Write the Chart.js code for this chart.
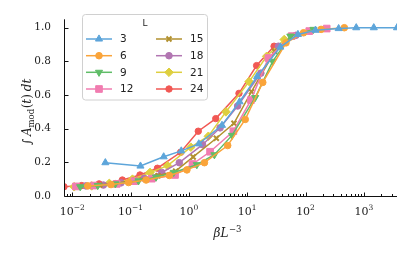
<!DOCTYPE html>
<html>
<head>
<meta charset="utf-8">
<script src="https://cdn.jsdelivr.net/npm/chart.js@4.4.0/dist/chart.umd.min.js"></script>
<style>
  html, body { margin: 0; padding: 0; background: #fff; }
  #wrap { width: 411px; height: 254px; }
</style>
</head>
<body>
<div id="wrap"><canvas id="chart" width="411" height="254"></canvas></div>
<script>
// series names (system size L)
const sizesL = [3, 6, 9, 12, 15, 18, 21, 24];

// x = beta * L^-3, y = integral of A_mod(t) dt
const x_L3 = [0.037, 0.148, 0.37, 0.741, 1.48, 3.7, 7.41, 14.8, 37, 74.1, 148, 370, 741, 1481, 3704];
const y_L3 = [0.198, 0.178, 0.233, 0.268, 0.31, 0.42, 0.56, 0.71, 0.885, 0.96, 0.985, 0.995, 1.0, 1.0, 1.0];

const x_L6 = [0.0185, 0.0463, 0.0926, 0.185, 0.463, 0.926, 1.85, 4.63, 9.26, 18.5, 46.3, 92.6, 185, 463];
const y_L6 = [0.06, 0.068, 0.08, 0.095, 0.122, 0.155, 0.198, 0.30, 0.455, 0.675, 0.91, 0.97, 0.99, 1.0];

const x_L9 = [0.0137, 0.0274, 0.0549, 0.137, 0.274, 0.549, 1.37, 2.74, 5.49, 13.7, 27.4, 54.9, 137];
const y_L9 = [0.055, 0.062, 0.072, 0.09, 0.112, 0.14, 0.186, 0.245, 0.36, 0.585, 0.80, 0.95, 0.99];

const x_L12 = [0.0116, 0.0231, 0.0579, 0.116, 0.231, 0.579, 1.157, 2.31, 5.79, 11.6, 23.1, 57.9, 116, 231];
const y_L12 = [0.057, 0.062, 0.072, 0.088, 0.103, 0.125, 0.19, 0.263, 0.385, 0.57, 0.82, 0.95, 0.98, 0.995];

const x_L15 = [0.01185, 0.0296, 0.0593, 0.1185, 0.296, 0.593, 1.185, 2.96, 5.93, 11.85, 29.6, 59.3, 118.5];
const y_L15 = [0.057, 0.065, 0.078, 0.095, 0.12, 0.148, 0.232, 0.343, 0.432, 0.62, 0.86, 0.95, 0.98];

const x_L18 = [0.01715, 0.0343, 0.0686, 0.1715, 0.343, 0.686, 1.715, 3.43, 6.86, 17.15, 34.3, 68.6];
const y_L18 = [0.06, 0.065, 0.078, 0.105, 0.14, 0.198, 0.305, 0.405, 0.535, 0.73, 0.89, 0.955];

const x_L21 = [0.0108, 0.0216, 0.0432, 0.108, 0.216, 0.432, 1.08, 2.16, 4.32, 10.8, 21.6, 43.2];
const y_L21 = [0.055, 0.06, 0.075, 0.10, 0.14, 0.18, 0.29, 0.355, 0.50, 0.68, 0.83, 0.93];

const x_L24 = [0.00723, 0.0145, 0.0289, 0.0723, 0.145, 0.289, 0.723, 1.45, 2.89, 7.23, 14.5, 28.9];
const y_L24 = [0.055, 0.062, 0.072, 0.095, 0.125, 0.165, 0.26, 0.385, 0.46, 0.61, 0.775, 0.89];

// tick labels
const xTickValues = [1e-2, 1e-1, 1, 1e1, 1e2, 1e3];
const xTickExponents = ['\u22122', '\u22121', '0', '1', '2', '3'];
const yTickValues = [0, 0.2, 0.4, 0.6, 0.8, 1.0];

const xSeries = [x_L3, x_L6, x_L9, x_L12, x_L15, x_L18, x_L21, x_L24];
const ySeries = [y_L3, y_L6, y_L9, y_L12, y_L15, y_L18, y_L21, y_L24];

const colors = ['#5DA5DA', '#FAA43A', '#60BD68', '#F17CB0', '#B2912F', '#B276B2', '#DECF3F', '#F15854'];
const markers = [
  { style: 'triangle', r: 4.1, rot: 0, bw: 1 },
  { style: 'circle', r: 3.3, rot: 0, bw: 1 },
  { style: 'triangle', r: 4.1, rot: 180, bw: 1 },
  { style: 'rect', r: 4.7, rot: 0, bw: 1 },
  { style: 'crossRot', r: 3.5, rot: 0, bw: 2 },
  { style: 'circle', r: 3.3, rot: 0, bw: 1 },
  { style: 'rectRot', r: 4.3, rot: 0, bw: 1 },
  { style: 'circle', r: 3.2, rot: 0, bw: 1 }
];

const datasets = sizesL.map((L, i) => ({
  label: String(L),
  data: xSeries[i].map((v, j) => ({ x: v, y: ySeries[i][j] })),
  borderColor: colors[i],
  backgroundColor: colors[i],
  borderWidth: 1.5,
  pointStyle: markers[i].style,
  pointRadius: markers[i].r,
  pointRotation: markers[i].rot,
  pointBorderWidth: markers[i].bw,
  pointBackgroundColor: colors[i],
  pointBorderColor: colors[i],
  tension: 0,
  clip: 0
}));

const serif = '"DejaVu Serif", serif';
const sans = '"DejaVu Sans", sans-serif';

// draw a row of text pieces centred on (cx, cy), optionally rotated
function drawPieces(ctx, pieces, cx, cy, angle) {
  ctx.save();
  ctx.translate(cx, cy);
  ctx.rotate(angle || 0);
  ctx.textBaseline = 'alphabetic';
  ctx.textAlign = 'left';
  let total = 0;
  pieces.forEach(p => { ctx.font = p.font; p.w = ctx.measureText(p.t).width; total += p.w + (p.gap || 0); });
  let x = -total / 2;
  pieces.forEach(p => {
    ctx.font = p.font;
    ctx.fillText(p.t, x, p.dy || 0);
    x += p.w + (p.gap || 0);
  });
  ctx.restore();
}

const axesDecor = {
  id: 'axesDecor',
  afterDraw(chart) {
    const { ctx, chartArea: a, scales: { x, y } } = chart;
    ctx.save();
    ctx.strokeStyle = '#111';
    ctx.lineWidth = 1;
    const bx = Math.round(a.left) + 0.5;
    const by = Math.round(a.bottom) + 0.5;
    ctx.beginPath();
    ctx.moveTo(bx, a.top);
    ctx.lineTo(bx, by);
    ctx.lineTo(a.right, by);
    // x ticks, inward
    for (let e = -3; e <= 3; e++) {
      for (let k = 1; k <= 9; k++) {
        const v = k * Math.pow(10, e);
        if (v < x.min || v > x.max) continue;
        const px = Math.round(x.getPixelForValue(v)) + 0.5;
        const len = k === 1 ? 4 : 2.5;
        ctx.moveTo(px, by);
        ctx.lineTo(px, by - len);
      }
    }
    // y ticks, inward
    yTickValues.forEach(v => {
      const py = Math.round(y.getPixelForValue(v)) + 0.5;
      ctx.moveTo(bx, py);
      ctx.lineTo(bx + 4, py);
    });
    ctx.stroke();

    // x tick labels 10^n
    ctx.fillStyle = '#222';
    xTickValues.forEach((v, i) => {
      const px = x.getPixelForValue(v);
      drawPieces(ctx, [
        { t: '10', font: '11px ' + serif },
        { t: xTickExponents[i], font: '7.5px ' + serif, dy: -4.5 }
      ], px, 214.5);
    });

    // axis titles
    drawPieces(ctx, [
      { t: '\u03b2', font: 'italic 12px ' + serif },
      { t: 'L', font: 'italic 12px ' + serif, gap: 0.5 },
      { t: '\u22123', font: '8.5px ' + serif, dy: -5 }
    ], (a.left + a.right) / 2 - 3, 237);

    drawPieces(ctx, [
      { t: '\u222b', font: '12px ' + serif, gap: 3 },
      { t: 'A', font: 'italic 12px ' + serif },
      { t: 'mod', font: '8.5px ' + serif, dy: 2.5, gap: 0.5 },
      { t: '(', font: '12px ' + serif },
      { t: 't', font: 'italic 12px ' + serif },
      { t: ')', font: '12px ' + serif, gap: 3 },
      { t: 'dt', font: 'italic 12px ' + serif }
    ], 31, 112, -Math.PI / 2);
    ctx.restore();
  }
};

// two-column legend, filled column by column
const columnLegend = {
  id: 'columnLegend',
  afterDatasetsDraw(chart) {
    const ctx = chart.ctx;
    const bx = 82.5, by = 14.5, bw = 125, bh = 85.5, rr = 3;
    ctx.save();
    ctx.beginPath();
    ctx.moveTo(bx + rr, by);
    ctx.arcTo(bx + bw, by, bx + bw, by + bh, rr);
    ctx.arcTo(bx + bw, by + bh, bx, by + bh, rr);
    ctx.arcTo(bx, by + bh, bx, by, rr);
    ctx.arcTo(bx, by, bx + bw, by, rr);
    ctx.closePath();
    ctx.fillStyle = 'rgba(255,255,255,0.85)';
    ctx.fill();
    ctx.strokeStyle = '#d0d0d0';
    ctx.lineWidth = 1;
    ctx.stroke();

    ctx.fillStyle = '#222';
    ctx.font = '9px ' + sans;
    ctx.textAlign = 'center';
    ctx.textBaseline = 'middle';
    ctx.fillText('L', 145, 24);

    const rows = [39, 55.7, 72.3, 89];
    const lineX = [86, 156];
    const textX = [120, 190];
    chart.data.datasets.forEach((ds, i) => {
      const col = Math.floor(i / 4), row = i % 4;
      const yy = rows[row];
      ctx.strokeStyle = ds.borderColor;
      ctx.lineWidth = 1.5;
      ctx.beginPath();
      ctx.moveTo(lineX[col], yy);
      ctx.lineTo(lineX[col] + 26, yy);
      ctx.stroke();
      ctx.fillStyle = ds.backgroundColor;
      ctx.strokeStyle = ds.borderColor;
      ctx.lineWidth = ds.pointBorderWidth;
      Chart.helpers.drawPoint(ctx, {
        pointStyle: ds.pointStyle,
        radius: ds.pointRadius,
        rotation: ds.pointRotation,
        borderWidth: ds.pointBorderWidth
      }, lineX[col] + 13, yy);
      ctx.fillStyle = '#222';
      ctx.font = '10.5px ' + sans;
      ctx.textAlign = 'left';
      ctx.fillText(ds.label, textX[col], yy + 0.5);
    });
    ctx.restore();
  }
};

new Chart(document.getElementById('chart'), {
  type: 'line',
  data: { datasets },
  options: {
    responsive: false,
    devicePixelRatio: 1,
    animation: false,
    layout: { padding: { top: 17, right: 14, left: 0, bottom: 0 } },
    plugins: { legend: { display: false }, tooltip: { enabled: false } },
    scales: {
      x: {
        type: 'logarithmic',
        min: 0.00723,
        max: 3704,
        grid: { display: false, drawTicks: false },
        border: { display: false },
        ticks: { display: false },
        afterBuildTicks: s => { s.ticks = xTickValues.map(v => ({ value: v })); },
        afterFit: s => { s.height = 58; }
      },
      y: {
        type: 'linear',
        min: 0,
        max: 1.05,
        grid: { display: false, drawTicks: false },
        border: { display: false },
        ticks: {
          padding: 13,
          color: '#222',
          font: { family: 'DejaVu Serif', size: 10.5 },
          callback: v => v.toFixed(1)
        },
        afterBuildTicks: s => { s.ticks = yTickValues.map(v => ({ value: v })); },
        afterFit: s => { s.width = 64; }
      }
    }
  },
  plugins: [axesDecor, columnLegend]
});
</script>
</body>
</html>
